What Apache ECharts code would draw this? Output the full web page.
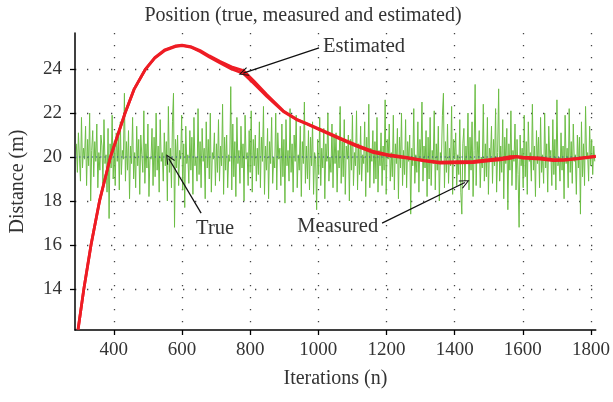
<!DOCTYPE html>
<html>
<head>
<meta charset="utf-8">
<script src="https://cdn.jsdelivr.net/npm/echarts@6/dist/echarts.min.js"></script>
<style>
  html, body { margin: 0; padding: 0; background: #fff; }
  #chart { width: 613px; height: 402px; }
</style>
</head>
<body>
<div id="chart"></div>
<script>
// measured position, one reading every 3 iterations from n = 290
var measStart = 290, measStep = 3;
var measured = [
  20.6, 19.3, 21.1, 20.0, 18.9, 21.8, 19.5, 20.4, 19.9, 21.4, 18.7, 20.8, 19.6, 22.0, 18.0, 20.3, 21.2, 19.1, 20.7, 19.8,
  21.5, 18.6, 20.2, 19.4, 21.0, 20.5, 18.8, 21.7, 19.7, 20.1, 18.4, 21.3, 17.2, 20.6, 19.5, 21.9, 19.0, 20.4, 18.7, 21.1,
  19.8, 20.9, 18.5, 21.6, 19.2, 20.3, 19.9, 22.9, 18.9, 20.7, 19.4, 21.2, 18.1, 20.5, 19.7, 21.8, 19.0, 20.2, 18.6, 21.4,
  19.6, 20.8, 18.3, 21.0, 20.1, 19.3, 22.1, 18.8, 20.6, 19.5, 21.5, 18.2, 20.0, 19.9, 21.3, 18.7, 20.9, 19.1, 22.0, 19.4,
  20.5, 18.4, 21.7, 19.8, 20.2, 18.9, 21.1, 19.6, 20.7, 18.0, 22.3, 19.3, 20.4, 18.6, 21.6, 22.9, 16.8, 20.8, 19.5, 21.0,
  18.7, 20.3, 19.9, 21.9, 18.5, 20.6, 17.7, 21.4, 19.7, 20.1, 18.8, 21.2, 19.4, 20.9, 18.3, 21.8, 19.6, 20.0, 18.9, 22.2,
  19.2, 20.7, 18.6, 21.3, 19.8, 20.4, 18.1, 21.6, 19.5, 20.8, 19.0, 22.0, 18.4, 20.2, 19.9, 21.1, 18.7, 20.6, 19.3, 21.7,
  18.9, 20.5, 19.6, 22.4, 18.3, 20.9, 19.4, 21.0, 18.6, 20.1, 19.8, 23.2, 18.5, 21.5, 19.1, 20.7, 18.2, 21.8, 19.7, 20.3,
  18.8, 21.4, 19.5, 20.6, 18.0, 21.9, 19.9, 20.2, 18.7, 21.2, 19.3, 22.1, 18.4, 20.8, 19.6, 21.0, 18.9, 20.4, 19.2, 21.6,
  18.6, 20.9, 19.8, 22.3, 18.3, 20.5, 19.4, 21.3, 18.1, 20.7, 19.7, 21.8, 18.8, 20.0, 19.5, 22.0, 18.5, 21.1, 19.9, 20.4,
  18.7, 21.5, 19.1, 20.8, 17.9, 21.7, 19.6, 20.3, 18.9, 22.2, 19.3, 20.6, 18.4, 21.0, 19.8, 21.9, 18.6, 20.1, 19.4, 21.4,
  18.2, 20.7, 19.7, 22.5, 18.8, 20.5, 19.0, 21.2, 18.5, 20.9, 19.6, 21.6, 18.3, 20.2, 19.9, 17.6, 20.8, 19.2, 21.8, 18.7,
  20.4, 19.5, 21.3, 18.1, 20.6, 19.8, 22.0, 18.9, 20.0, 19.3, 21.5, 18.6, 20.9, 19.7, 21.1, 18.4, 20.3, 19.5, 22.3, 18.8,
  20.7, 19.1, 21.7, 18.3, 20.5, 19.9, 21.0, 18.0, 20.8, 19.4, 21.9, 18.7, 20.2, 19.6, 22.1, 18.5, 20.6, 19.2, 21.4, 18.9,
  20.1, 19.7, 21.6, 18.2, 20.9, 19.3, 22.4, 18.6, 20.4, 19.8, 21.2, 18.8, 20.7, 19.0, 21.8, 18.4, 20.3, 19.6, 21.1, 18.7,
  20.5, 19.4, 22.6, 18.3, 20.8, 19.9, 21.5, 18.9, 20.2, 19.1, 21.9, 18.5, 20.6, 19.7, 21.3, 18.1, 20.9, 19.5, 22.0, 18.7,
  20.3, 19.2, 21.7, 18.6, 20.7, 19.8, 21.0, 17.4, 20.4, 19.6, 22.2, 18.8, 20.1, 19.3, 21.6, 18.4, 20.8, 19.9, 22.5, 18.9,
  20.5, 19.5, 21.2, 18.2, 20.9, 19.0, 21.8, 18.7, 20.3, 19.7, 22.1, 18.5, 20.6, 19.4, 21.4, 18.0, 20.2, 19.8, 21.9, 22.9,
  18.6, 20.7, 19.3, 21.5, 18.8, 20.4, 19.6, 22.3, 18.3, 20.8, 19.9, 21.1, 18.7, 20.1, 19.2, 21.7, 18.4, 17.4, 20.6, 21.3,
  18.9, 20.5, 19.7, 22.0, 18.5, 20.9, 19.4, 21.6, 18.2, 20.3, 23.3, 18.7, 20.7, 19.8, 21.2, 18.6, 20.0, 19.5, 22.4, 18.9,
  20.6, 19.1, 21.8, 18.3, 20.4, 19.9, 21.4, 18.8, 20.8, 19.6, 22.2, 18.4, 20.2, 23.1, 18.9, 20.5, 19.3, 21.7, 18.1, 20.9,
  19.7, 21.3, 17.6, 20.6, 19.4, 22.1, 18.7, 20.3, 19.8, 21.5, 18.5, 20.8, 19.2, 16.8, 21.0, 19.6, 20.4, 18.6, 21.9, 19.1,
  20.7, 18.3, 21.6, 19.8, 20.2, 18.9, 22.4, 19.4, 20.5, 18.2, 21.2, 19.7, 20.9, 18.6, 21.8, 19.3, 20.1, 18.8, 22.0, 19.5,
  20.6, 18.4, 21.4, 19.9, 20.3, 18.7, 21.7, 19.2, 20.8, 18.5, 22.6, 19.6, 20.0, 18.9, 21.1, 19.4, 20.5, 18.1, 21.9, 19.7,
  20.4, 18.6, 22.2, 19.3, 20.7, 18.8, 21.5, 19.8, 20.1, 18.3, 21.0, 19.5, 20.9, 17.4, 21.6, 19.1, 20.6, 18.7, 22.3, 19.9,
  20.2, 18.9, 21.4, 19.6, 20.8, 19.2, 20.5, 19.8
];

// estimated position (iteration, metres) and the spread of the estimate band
var estIter = [295, 312, 333, 358, 390, 433, 460, 493, 520, 550, 580, 600, 625, 653, 680, 712, 745, 780, 810, 849,
  897, 936, 966, 1000, 1065, 1110, 1162, 1210, 1260, 1310, 1357, 1410, 1455, 1500, 1533, 1560, 1581, 1600, 1650, 1689,
  1720, 1760, 1814];
var estValue = [12.15, 14.0, 16.0, 18.0, 20.0, 22.0, 23.1, 24.0, 24.5, 24.85, 25.02, 25.07, 25.0, 24.8, 24.55, 24.27, 24.0, 23.8, 23.35, 22.75,
  22.07, 21.7, 21.5, 21.26, 20.81, 20.5, 20.2, 20.05, 19.95, 19.82, 19.72, 19.73, 19.75, 19.82, 19.87, 19.93, 20.0, 19.95, 19.9, 19.83,
  19.85, 19.92, 20.02];
var estSpread = [0, 0, 0, 0, 0, 0, 0, 0, 0.02, 0.03, 0.03, 0.02, 0.02, 0.04, 0.05, 0.07, 0.1, 0.13, 0.12, 0.08,
  0.03, 0.02, 0.02, 0.03, 0.04, 0.05, 0.05, 0.04, 0.03, 0.03, 0.05, 0.06, 0.05, 0.06, 0.07, 0.08, 0.03, 0.04, 0.06, 0.05,
  0.03, 0.02, 0.02];

var trueDistance = 20;

var xTicks = [400, 600, 800, 1000, 1200, 1400, 1600, 1800];
var yTicks = [14, 16, 18, 20, 22, 24];

// text labels and arrows, in data coordinates
var annotations = [
  { text: 'Estimated', at: [1134, 25.02], from: [1002, 24.96], to: [780, 23.82] },
  { text: 'True', at: [697, 16.73], from: [656, 17.45], to: [561, 19.93] },
  { text: 'Measured', at: [1057, 16.82], from: [1187, 16.99], to: [1430, 18.84] }
];

var measuredData = measured.map(function (v, i) { return [measStart + i * measStep, v]; });
var estData = estIter.map(function (n, i) { return [n, estValue[i]]; });
var estUpper = estIter.map(function (n, i) { return [n, estValue[i] + estSpread[i]]; });

var serif = 'Liberation Serif';
var dots = { color: '#444', width: 1.3, type: [1.3, 10.7] };
var openArrow = 'path://M0,0 L6,11 L4.8,11.6 L0,2.6 L-4.8,11.6 L-6,11 Z';
var red = '#ee1c24';

var myChart = echarts.init(document.getElementById('chart'));
var option = {
  animation: false,
  title: {
    text: 'Position (true, measured and estimated)',
    left: 298,
    top: 1,
    textAlign: 'center',
    textStyle: { fontFamily: serif, fontSize: 20, fontWeight: 'normal', color: '#333' }
  },
  grid: { left: 74, right: 16, top: 33, bottom: 72, containLabel: false },
  xAxis: {
    type: 'value',
    min: 286,
    max: 1814,
    minInterval: 200,
    maxInterval: 200,
    name: 'Iterations (n)',
    nameLocation: 'middle',
    nameGap: 39,
    nameTextStyle: { fontFamily: serif, fontSize: 20, color: '#333' },
    axisLine: { lineStyle: { color: '#000', width: 1.5 } },
    axisTick: { length: 5, customValues: xTicks, lineStyle: { color: '#000', width: 1.3 } },
    axisLabel: {
      customValues: xTicks, margin: 11, fontFamily: serif, fontSize: 19, color: '#333',
      formatter: function (v) { return String(v); }
    },
    splitLine: { show: true, lineStyle: dots }
  },
  yAxis: {
    type: 'value',
    min: 12.13,
    max: 25.64,
    minInterval: 2,
    maxInterval: 2,
    name: 'Distance (m)',
    nameLocation: 'middle',
    nameGap: 47,
    nameTextStyle: { fontFamily: serif, fontSize: 20, color: '#333' },
    axisLine: { show: true, lineStyle: { color: '#000', width: 1.5 } },
    axisTick: { show: true, length: 5, customValues: yTicks, lineStyle: { color: '#000', width: 1.3 } },
    axisLabel: {
      customValues: yTicks, margin: 13, fontFamily: serif, fontSize: 19, color: '#333',
      formatter: function (v) { return String(v); }
    },
    splitLine: { show: true, lineStyle: dots }
  },
  series: [
    {
      name: 'Measured',
      type: 'line',
      data: measuredData,
      showSymbol: false,
      lineStyle: { color: '#6cbd45', width: 1 },
      z: 2
    },
    {
      name: 'True',
      type: 'line',
      data: [[286, trueDistance], [1814, trueDistance]],
      showSymbol: false,
      lineStyle: { color: '#33449a', width: 1.2, type: [1.2, 3] },
      z: 3
    },
    {
      name: 'Estimated',
      type: 'line',
      data: estData,
      showSymbol: false,
      lineStyle: { color: red, width: 2.8, join: 'round' },
      z: 4
    },
    {
      name: 'Estimated band',
      type: 'line',
      data: estUpper,
      showSymbol: false,
      lineStyle: { color: red, width: 2.8, join: 'round' },
      z: 4
    },
    {
      name: 'notes',
      type: 'line',
      data: [],
      z: 5,
      markLine: {
        silent: true,
        animation: false,
        symbol: ['none', openArrow],
        symbolSize: [9, 10],
        lineStyle: { color: '#111', width: 1.3, type: 'solid' },
        label: { show: false },
        data: annotations.map(function (a) { return [{ coord: a.from }, { coord: a.to }]; })
      },
      markPoint: {
        silent: true,
        animation: false,
        symbol: 'circle',
        symbolSize: 0,
        label: { show: true, position: 'inside', fontFamily: serif, fontSize: 20.5, color: '#333', formatter: function (p) { return p.name; } },
        data: annotations.map(function (a) { return { name: a.text, coord: a.at }; })
      }
    }
  ]
};
myChart.setOption(option);
</script>
</body>
</html>
